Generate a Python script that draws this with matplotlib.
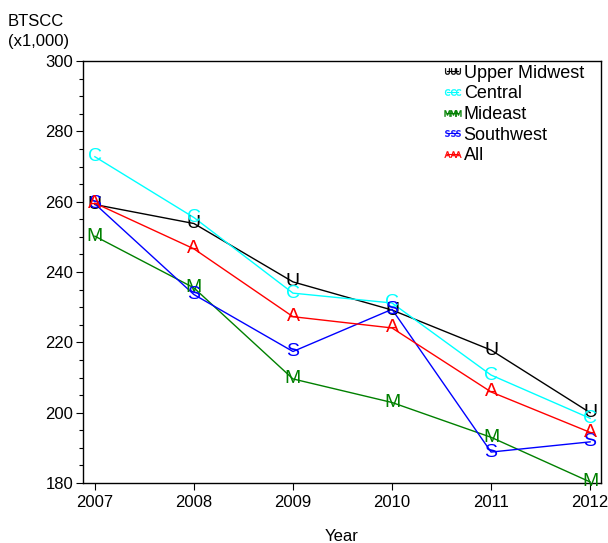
import matplotlib.pyplot as plt
from matplotlib.lines import Line2D

plt.rcParams['font.family'] = ['Liberation Sans', 'DejaVu Sans']

years = [2007, 2008, 2009, 2010, 2011, 2012]
upper_midwest = [259.2, 253.8, 237.2, 229.2, 217.8, 200.0]
central = [272.8, 255.5, 234.0, 231.2, 210.7, 198.4]
mideast = [250.2, 235.5, 209.6, 202.9, 193.0, 180.3]
southwest = [259.4, 233.6, 217.4, 229.4, 188.8, 191.7]
all_regions = [259.6, 246.6, 227.3, 224.1, 205.9, 194.4]

series = [
    ("Upper Midwest", "U", "black", upper_midwest),
    ("Central", "C", "cyan", central),
    ("Mideast", "M", "#008000", mideast),
    ("Southwest", "S", "blue", southwest),
    ("All", "A", "red", all_regions),
]

fig = plt.figure(figsize=(6.08, 5.43), dpi=100)
ax = fig.add_axes([0.1365, 0.1105, 0.852, 0.777])

handles = []
for name, letter, color, vals in series:
    ax.plot(years, vals, color=color, lw=1.0)
    for x, y in zip(years, vals):
        ax.text(x, y, letter, color=color, fontsize=14, ha='center', va='center')
    handles.append(Line2D([], [], color=color, lw=0.8, marker=r'$\mathrm{%s}$' % letter,
                          markersize=4.5, markeredgewidth=0.3))

ax.set_xlim(2006.88, 2012.11)
ax.set_ylim(180, 300)
ax.set_xticks(years)
ax.set_yticks(range(180, 301, 20))
ax.set_yticks(range(180, 301, 5), minor=True)
ax.tick_params(labelsize=12, length=5, width=0.8, direction='out', pad=2)
ax.tick_params(axis='x', pad=4)
ax.tick_params(which='minor', length=3, width=0.8, direction='out')
for s in ax.spines.values():
    s.set_linewidth(1.0)

ax.set_xlabel("Year", fontsize=12, labelpad=13)
fig.text(0.013, 0.975, "BTSCC\n(x1,000)", fontsize=12, ha='left', va='top', linespacing=1.45)

ax.legend(handles, [s[0] for s in series], loc='upper left', bbox_to_anchor=(0.686, 1.0),
          frameon=False, numpoints=3, handlelength=1.2, handletextpad=0.0, fontsize=13,
          labelspacing=0.2, borderaxespad=0.0, borderpad=0.2)

fig.savefig("out.png", dpi=100)
